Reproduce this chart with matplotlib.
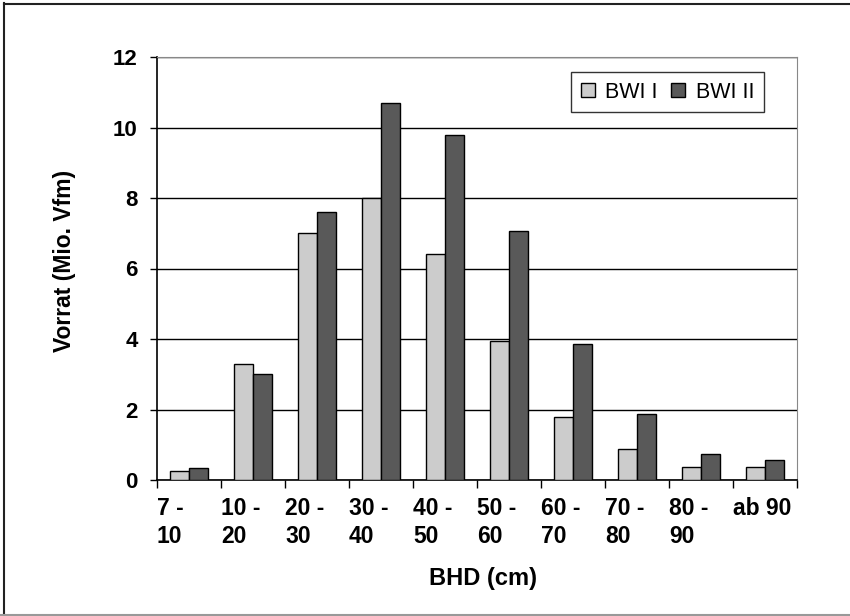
import numpy as np
import matplotlib
matplotlib.use("Agg")
import matplotlib.pyplot as plt
from matplotlib.lines import Line2D

# data
categories = ["7 -\n10", "10 -\n20", "20 -\n30", "30 -\n40", "40 -\n50",
              "50 -\n60", "60 -\n70", "70 -\n80", "80 -\n90", "ab 90"]
bwi1 = [0.25, 3.3, 7.0, 8.0, 6.4, 3.95, 1.8, 0.88, 0.38, 0.38]
bwi2 = [0.35, 3.0, 7.6, 10.7, 9.8, 7.05, 3.85, 1.88, 0.74, 0.57]
series_names = ["BWI I", "BWI II"]
yticks = [0, 2, 4, 6, 8, 10, 12]

plt.rcParams['font.family'] = ['Liberation Sans', 'DejaVu Sans']

W, H = 850, 616
fig = plt.figure(figsize=(W / 100, H / 100), dpi=100)
ax = fig.add_axes([157/W, 1 - 480/H, 640/W, 423/H])

x = np.arange(len(categories))
w = 0.29
ax.bar(x - w/2, bwi1, w, color="#cccccc", edgecolor="black", linewidth=1.0,
       label=series_names[0], zorder=3)
ax.bar(x + w/2, bwi2, w, color="#595959", edgecolor="black", linewidth=1.0,
       label=series_names[1], zorder=3)

ax.set_xlim(-0.5, len(categories) - 0.5)
ax.set_ylim(0, 12)
ax.set_yticks(yticks)
ax.set_yticklabels([str(v) for v in yticks], fontsize=16, fontweight="bold")
ax.yaxis.grid(True, color="black", linewidth=1.0, zorder=0)
ax.set_axisbelow(True)

# tick marks between categories, labels left-aligned to each category slot
bounds = np.arange(len(categories) + 1) - 0.5
ax.set_xticks(bounds)
ax.set_xticklabels(categories + [""], fontsize=16.5, fontweight="bold",
                   ha="left", linespacing=1.3)
ax.tick_params(axis="x", direction="out", length=6, width=1, pad=6)
ax.tick_params(axis="y", direction="out", length=5, width=1, pad=9)

for s in ["top", "right"]:
    ax.spines[s].set_color("#888888")
for s in ["left", "bottom"]:
    ax.spines[s].set_color("black")
    ax.spines[s].set_linewidth(1.2)

ax.set_xlabel("BHD (cm)", fontsize=17, fontweight="bold")
ax.xaxis.set_label_coords(0.51, -0.205)
ax.set_ylabel("Vorrat (Mio. Vfm)", fontsize=16.5, fontweight="bold")
ax.yaxis.set_label_coords(-0.127, 0.519)

leg = ax.legend(loc="upper right", bbox_to_anchor=(0.948, 0.9645),
                borderaxespad=0, ncol=2, frameon=True, fancybox=False,
                fontsize=15.5, handlelength=0.65, handleheight=0.65,
                handletextpad=0.47, columnspacing=0.65, borderpad=0.45)
leg.get_frame().set_edgecolor("black")
leg.get_frame().set_linewidth(1.0)

# outer frame of the picture (top and left dark, bottom grey)
fig.lines.append(Line2D([4/W, 1], [1 - 3.5/H, 1 - 3.5/H], color="#222222",
                        linewidth=1.5, transform=fig.transFigure, figure=fig))
fig.lines.append(Line2D([4/W, 4/W], [0, 1 - 3/H], color="#222222",
                        linewidth=1.5, transform=fig.transFigure, figure=fig))
fig.lines.append(Line2D([0, 1], [1/H, 1/H], color="#999999",
                        linewidth=1.5, transform=fig.transFigure, figure=fig))

fig.savefig("out.png", dpi=100)
